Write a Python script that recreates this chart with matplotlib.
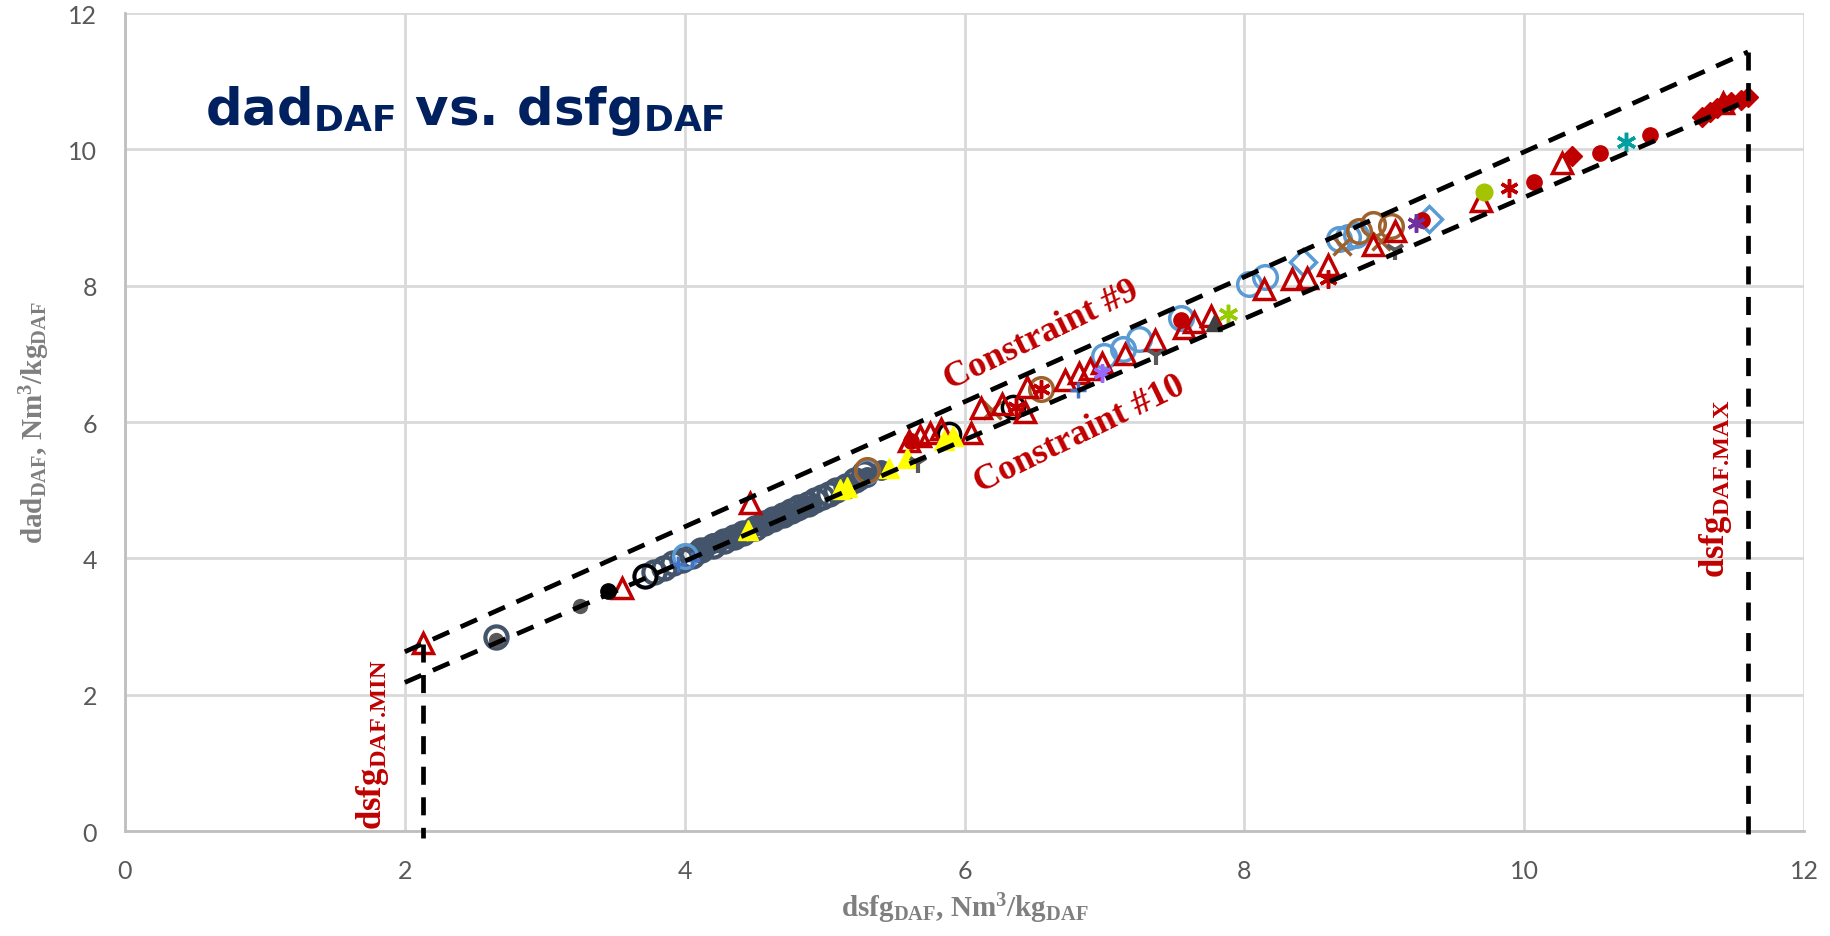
import matplotlib
matplotlib.use('Agg')
import matplotlib.pyplot as plt

plt.rcParams['mathtext.fontset'] = 'custom'
plt.rcParams['mathtext.rm'] = 'Liberation Serif:bold'
plt.rcParams['mathtext.it'] = 'Liberation Serif:bold'
plt.rcParams['mathtext.bf'] = 'Liberation Serif:bold'
plt.rcParams['mathtext.sf'] = 'DejaVu Sans:bold'
plt.rcParams['lines.scale_dashes'] = False

RED = '#C00000'
SLATE = '#44546A'
LBLUE = '#5B9BD5'
BROWN = '#A0622D'
ASTER = (6, 2, 0)

# measured points, grouped by marker series
slate_open_x = [2.65, 3.72, 3.78, 3.85, 3.92, 3.98, 4.05, 4.12, 4.20, 4.28, 4.35, 4.42, 4.50,
                4.57, 4.63, 4.70, 4.76, 4.82, 4.88, 4.93, 4.98, 5.03, 5.08, 5.15, 5.22, 5.28]
slate_open_y = [2.85, 3.74, 3.80, 3.86, 3.93, 3.98, 4.04, 4.12, 4.18, 4.25, 4.32, 4.37, 4.45,
                4.52, 4.58, 4.63, 4.70, 4.75, 4.80, 4.85, 4.90, 4.95, 5.00, 5.06, 5.15, 5.25]
slate_fill_x = [4.10, 4.15, 4.20, 4.25, 4.30, 4.35, 4.40, 4.45, 4.50, 4.55, 4.60, 4.65, 4.70,
                4.75, 4.80, 4.85, 4.90, 5.20, 5.25, 5.30, 5.40]
slate_fill_y = [4.12, 4.16, 4.22, 4.25, 4.30, 4.33, 4.38, 4.42, 4.47, 4.50, 4.55, 4.58, 4.62,
                4.66, 4.70, 4.75, 4.78, 5.10, 5.15, 5.20, 5.30]

tri_x = [2.13, 3.55, 4.47, 5.60, 5.68, 5.75, 5.83, 6.05, 6.12, 6.27, 6.43, 6.45, 6.72, 6.82,
         6.90, 6.98, 7.15, 7.36, 7.57, 7.64, 7.76, 8.14, 8.34, 8.45, 8.60, 8.92, 9.08, 9.69,
         10.27, 11.42]
tri_y = [2.76, 3.56, 4.81, 5.72, 5.80, 5.84, 5.90, 5.84, 6.20, 6.27, 6.15, 6.52, 6.62, 6.72,
         6.78, 6.87, 7.00, 7.20, 7.38, 7.47, 7.55, 7.95, 8.10, 8.12, 8.30, 8.60, 8.80, 9.25,
         9.80, 10.68]

yel_x = [4.45, 5.11, 5.16, 5.46, 5.59, 5.85, 5.92]
yel_y = [4.42, 5.02, 5.05, 5.33, 5.48, 5.74, 5.79]

lblue_x = [4.00, 5.30, 7.00, 7.13, 7.25, 7.55, 8.03, 8.15, 8.68, 8.74, 8.80]
lblue_y = [4.04, 5.28, 6.97, 7.07, 7.22, 7.53, 8.02, 8.13, 8.68, 8.72, 8.75]
lblue_dia_x = [8.42, 9.32]
lblue_dia_y = [8.35, 8.98]

black_open_x = [3.72, 5.89, 6.35]
black_open_y = [3.74, 5.82, 6.22]

brown_open_x = [5.30, 6.55, 8.82, 8.92, 9.05]
brown_open_y = [5.30, 6.48, 8.80, 8.90, 8.88]
brown_x_x = [6.20, 8.70, 8.98]
brown_x_y = [6.17, 8.58, 8.65]

red_dot_x = [5.62, 7.55, 9.27, 10.07, 10.54, 10.90]
red_dot_y = [5.72, 7.50, 8.97, 9.52, 9.94, 10.21]
red_ast_x = [6.37, 6.55, 8.60, 9.89]
red_ast_y = [6.22, 6.48, 8.10, 9.44]
red_dia_x = [10.34, 11.27, 11.33, 11.38, 11.43, 11.48, 11.55, 11.60]
red_dia_y = [9.90, 10.47, 10.55, 10.60, 10.66, 10.70, 10.73, 10.77]

gray_dot_x = [2.65, 3.25]
gray_dot_y = [2.80, 3.30]
black_dot_x = [3.45]
black_dot_y = [3.52]
dgray_tri_x = [5.67, 7.37, 9.08]
dgray_tri_y = [5.40, 6.98, 8.53]
dgray_fill_x = [7.78]
dgray_fill_y = [7.45]
blue_x = [3.95, 4.05, 6.81]
blue_y = [3.92, 3.98, 6.47]
lav_x = [6.98]
lav_y = [6.72]
purple_x = [9.23]
purple_y = [8.92]
teal_x = [10.73]
teal_y = [10.11]
lime_x = [7.88]
lime_y = [7.58]
lime_dot_x = [9.71]
lime_dot_y = [9.37]

# constraint envelope
upper_x = [2.0, 11.6]
upper_y = [2.63, 11.43]
lower_x = [2.0, 11.6]
lower_y = [2.18, 10.72]
x_min = 2.13
x_max = 11.6

fig = plt.figure(figsize=(18.3, 9.37), dpi=100)
ax = fig.add_axes([0.0683, 0.112, 0.9175, 0.873])

ax.plot(slate_fill_x, slate_fill_y, 'o', ms=14, color=SLATE, zorder=3)
ax.plot(slate_open_x, slate_open_y, 'o', ms=16, mfc='none', mec=SLATE, mew=3, zorder=3)
ax.plot(black_open_x, black_open_y, 'o', ms=16, mfc='none', mec='black', mew=2.5, zorder=3)
ax.plot(lblue_x, lblue_y, 'o', ms=17, mfc='none', mec=LBLUE, mew=2.5, zorder=3)
ax.plot(lblue_dia_x, lblue_dia_y, 'D', ms=13, mfc='none', mec=LBLUE, mew=2.5, zorder=3)
ax.plot(brown_open_x, brown_open_y, 'o', ms=17, mfc='none', mec=BROWN, mew=2.5, zorder=3)
ax.plot(brown_x_x, brown_x_y, 'x', ms=13, color=BROWN, mew=2.5, zorder=3)
ax.plot(tri_x, tri_y, '^', ms=14, mfc='none', mec=RED, mew=2.5, zorder=4)
ax.plot(yel_x, yel_y, '^', ms=14, color='#FFFF00', zorder=4)
ax.plot(red_dot_x, red_dot_y, 'o', ms=11, color=RED, zorder=4)
ax.plot(red_ast_x, red_ast_y, marker=ASTER, ls='none', ms=13, color=RED, mew=2.5, zorder=4)
ax.plot(red_dia_x, red_dia_y, 'D', ms=10, color=RED, zorder=4)
ax.plot(gray_dot_x, gray_dot_y, 'o', ms=10, color='#595959', zorder=4)
ax.plot(black_dot_x, black_dot_y, 'o', ms=11, color='black', zorder=4)
ax.plot(dgray_tri_x, dgray_tri_y, marker='1', ls='none', ms=14, color='#595959', mew=3, zorder=4)
ax.plot(dgray_fill_x, dgray_fill_y, '^', ms=11, color='#404040', zorder=4)
ax.plot(blue_x, blue_y, marker='+', ls='none', ms=11, color='#4472C4', mew=2.5, zorder=4)
ax.plot(lav_x, lav_y, marker=ASTER, ls='none', ms=13, color='#9966FF', mew=2.5, zorder=4)
ax.plot(purple_x, purple_y, marker=ASTER, ls='none', ms=13, color='#7030A0', mew=2.5, zorder=4)
ax.plot(teal_x, teal_y, marker=ASTER, ls='none', ms=14, color='#00A0A0', mew=2.5, zorder=4)
ax.plot(lime_x, lime_y, marker=ASTER, ls='none', ms=14, color='#99CC00', mew=2.5, zorder=4)
ax.plot(lime_dot_x, lime_dot_y, 'o', ms=12, color='#A5C300', zorder=4)

dash = dict(color='black', lw=3.4, dashes=(13, 9), zorder=5, clip_on=False)
ax.plot(upper_x, upper_y, **dash)
ax.plot(lower_x, lower_y, **dash)
top_min = upper_y[0] + (x_min - upper_x[0]) * (upper_y[1] - upper_y[0]) / (upper_x[1] - upper_x[0])
ax.plot([x_min, x_min], [top_min, -0.1], **dash)
ax.plot([x_max, x_max], [upper_y[1], -0.1], **dash)

serif = dict(family='Liberation Serif', weight='bold', color=RED)
ax.text(6.55, 7.28, 'Constraint #9', fontsize=26, rotation=26, rotation_mode='anchor',
        ha='center', va='center', zorder=6, **serif)
ax.text(6.82, 5.83, 'Constraint #10', fontsize=26, rotation=26, rotation_mode='anchor',
        ha='center', va='center', zorder=6, **serif)
ax.text(1.77, 0.03, r'dsfg$_\mathrm{DAF.\!MIN}$', fontsize=25, rotation=90,
        ha='center', va='bottom', zorder=6, **serif)
ax.text(11.37, 3.73, r'dsfg$_\mathrm{DAF.\!MAX}$', fontsize=25, rotation=90,
        ha='center', va='bottom', zorder=6, **serif)

ax.text(0.57, 10.37, r'dad$_\mathsf{DAF}$ vs. dsfg$_\mathsf{DAF}$', fontsize=37,
        family='DejaVu Sans', weight='bold', color='#002060', va='baseline')

ax.set_xlim(0, 12)
ax.set_ylim(0, 12)
ax.set_xticks(range(0, 13, 2))
ax.set_yticks(range(0, 13, 2))
ax.grid(True, color='#D9D9D9', lw=2)
ax.set_axisbelow(True)
for side in ['top', 'right']:
    ax.spines[side].set_visible(False)
for side in ['left', 'bottom']:
    ax.spines[side].set_color('#BFBFBF')
    ax.spines[side].set_linewidth(2)
ax.tick_params(length=0, pad=20, labelsize=18, labelcolor='#595959')
for lab in ax.get_xticklabels() + ax.get_yticklabels():
    lab.set_family('Lato')

lab_font = dict(family='Liberation Serif', weight='bold', color='#7F7F7F', fontsize=21)
ax.set_xlabel(r'dsfg$_\mathrm{DAF}$, Nm$^\mathrm{3}$/kg$_\mathrm{DAF}$', labelpad=6, **lab_font)
ax.set_ylabel(r'dad$_\mathrm{DAF}$, Nm$^\mathrm{3}$/kg$_\mathrm{DAF}$', labelpad=12, **lab_font)

fig.savefig('out.png', dpi=100)
